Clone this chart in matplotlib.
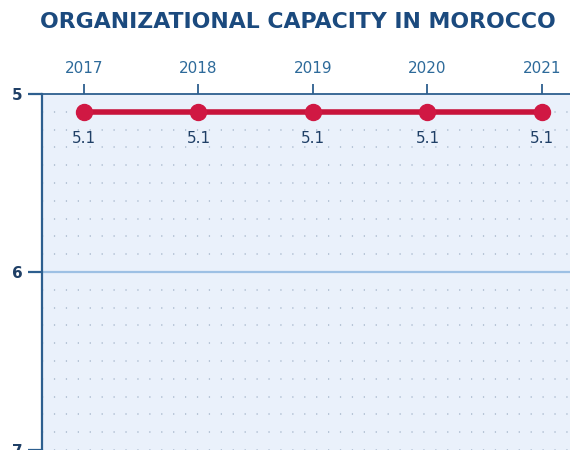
import matplotlib
matplotlib.use("Agg")
import matplotlib.pyplot as plt
import numpy as np

years = [2017, 2018, 2019, 2020, 2021]
values = [5.1, 5.1, 5.1, 5.1, 5.1]
labels = ["5.1", "5.1", "5.1", "5.1", "5.1"]
y_ticks = [5, 6, 7]
title = "ORGANIZATIONAL CAPACITY IN MOROCCO"

fig = plt.figure(figsize=(5.7, 4.5), dpi=100)
ax = fig.add_axes([42/570, 0.0, 528/570, (450-94)/450])
ax.set_facecolor("#eaf1fb")

ax.set_xlim(2016.633, 2021.245)
ax.set_ylim(7.0, 5.0)

# dotted grid
for yv in np.arange(5.1, 7.0, 0.1):
    if abs(yv - 6.0) < 1e-6:
        continue
    ax.axhline(yv, color="#a9b9cd", lw=1.1, ls=(0, (0.8, 7)), zorder=1)
ax.axhline(6.0, color="#9dc0e4", lw=1.6, zorder=1)

ax.plot(years, values, color="#c8143c", lw=4, marker="o", ms=11.5,
        markerfacecolor="#d01843", markeredgecolor="#d01843", zorder=3,
        clip_on=False)
for x, v, l in zip(years, values, labels):
    ax.annotate(l, (x, v), xytext=(0, -14), textcoords="offset points",
                ha="center", va="top", fontsize=11, color="#1f3f66")

ax.xaxis.tick_top()
ax.set_xticks(years)
ax.set_xticklabels([str(y) for y in years])
ax.set_yticks(y_ticks)
ax.tick_params(axis="x", direction="out", length=7, width=1.3, color="#2d5f8f",
               labelcolor="#2d6a9a", labelsize=11, pad=6)
ax.tick_params(axis="y", direction="out", length=10, width=1.6, color="#2d5f8f",
               labelcolor="#1f3f66", labelsize=11, pad=4)
for lbl in ax.get_yticklabels():
    lbl.set_fontweight("bold")

for s in ["right", "bottom"]:
    ax.spines[s].set_visible(False)
ax.spines["top"].set_color("#2d5f8f")
ax.spines["top"].set_linewidth(1.3)
ax.spines["left"].set_color("#2d5f8f")
ax.spines["left"].set_linewidth(1.6)

fig.text(0.523, 0.95, title, ha="center", va="center", fontsize=15.8,
         fontweight="heavy", color="#1b4a7e")

fig.savefig("out.png", dpi=100)
